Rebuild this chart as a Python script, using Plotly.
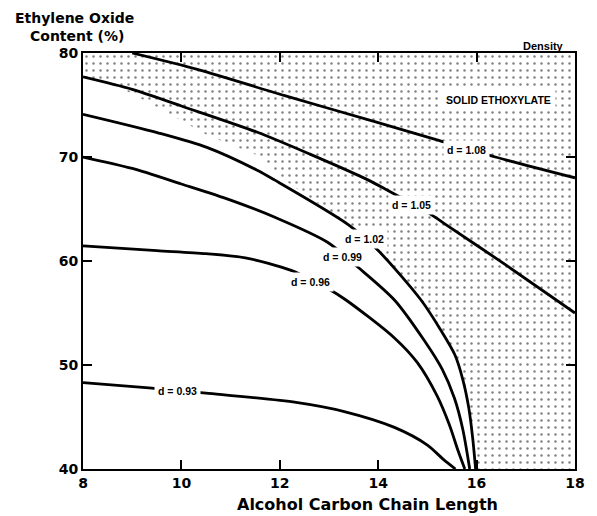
import plotly.graph_objects as go

# Contour lines of density (x = alcohol carbon chain length, y = EO content %)
d093_x = [8.0, 9.34, 10.5, 12.33, 13.33, 14.33, 15.0, 15.33, 15.57]
d093_y = [48.3, 47.8, 47.3, 46.4, 45.5, 44.0, 42.3, 40.9, 40.0]

d096_x = [8.0, 9.5, 10.5, 11.3, 12.23, 12.99, 13.33, 14.33, 14.8, 15.2, 15.45, 15.62, 15.76]
d096_y = [61.45, 61.0, 60.7, 60.3, 59.1, 57.3, 56.3, 52.6, 50.2, 47.0, 44.2, 41.8, 40.0]

d099_x = [8.0, 9.0, 10.0, 11.0, 11.9, 12.97, 13.59, 14.33, 14.93, 15.3, 15.55, 15.72, 15.86]
d099_y = [70.0, 68.9, 67.4, 65.85, 64.2, 61.8, 59.4, 56.25, 52.4, 49.6, 46.8, 43.8, 40.0]

d102_x = [8.0, 9.54, 10.53, 11.53, 11.89, 13.39, 13.99, 14.87, 15.27, 15.56, 15.72, 15.84, 15.92, 15.98]
d102_y = [74.1, 72.3, 70.9, 68.75, 67.8, 63.5, 61.05, 56.25, 53.37, 50.96, 48.6, 45.9, 43.0, 40.0]

d105_x = [8.0, 9.0, 10.0, 11.53, 12.6, 13.79, 14.19, 15.03, 15.33, 16.6, 18.0]
d105_y = [77.7, 76.5, 74.9, 72.4, 70.3, 67.8, 66.8, 64.6, 63.65, 59.6, 55.0]

d108_x = [9.0, 10.34, 12.1, 13.93, 15.23, 16.38, 18.0]
d108_y = [80.0, 78.4, 75.9, 73.4, 71.6, 70.0, 68.0]

# Boundary of the solid-ethoxylate (dotted) region where it leaves d = 1.02
shade_x = [8.0, 8.54, 9.54, 10.53, 11.53, 12.15]
shade_y = [77.7, 77.2, 74.7, 72.1, 70.2, 67.6]

labels = ["d = 0.93", "d = 0.96", "d = 0.99", "d = 1.02", "d = 1.05", "d = 1.08"]
label_x = [9.93, 12.63, 13.27, 13.73, 14.67, 15.8]
label_y = [47.5, 57.98, 60.38, 62.12, 65.38, 70.67]

x_ticks = [8, 10, 12, 14, 16, 18]
y_ticks = [40, 50, 60, 70, 80]
x_range = [8, 18]
y_range = [40, 80]

SANS = "Liberation Sans, Arial, sans-serif"
WIDE = "DejaVu Sans, sans-serif"

fig = go.Figure()

# dotted region polygon
px = [x_range[0], x_range[1], x_range[1]]
py = [y_range[1], y_range[1], y_range[0]]
for x, y in zip(reversed(d102_x), reversed(d102_y)):
    if x > shade_x[-1]:
        px.append(x)
        py.append(y)
px += list(reversed(shade_x))
py += list(reversed(shade_y))
px.append(x_range[0])
py.append(y_range[1])

fig.add_trace(go.Scatter(
    x=px, y=py, mode="lines", fill="toself",
    fillcolor="white",
    fillpattern=dict(shape=".", size=7, solidity=0.1, fgcolor="black", bgcolor="white"),
    line=dict(width=0, color="rgba(0,0,0,0)"),
    hoverinfo="skip", showlegend=False,
))

for xs, ys in [(d093_x, d093_y), (d096_x, d096_y), (d099_x, d099_y),
               (d102_x, d102_y), (d105_x, d105_y), (d108_x, d108_y)]:
    fig.add_trace(go.Scatter(
        x=xs, y=ys, mode="lines",
        line=dict(color="black", width=2.8, shape="spline", smoothing=0.8),
        hoverinfo="skip", showlegend=False,
    ))

annotations = []
for t, x, y in zip(labels, label_x, label_y):
    annotations.append(dict(
        x=x, y=y, xref="x", yref="y", text="<b>" + t + "</b>", showarrow=False,
        font=dict(family=SANS, size=10.5, color="black"),
        bgcolor="white", borderpad=3,
    ))

annotations += [
    dict(x=16.45, y=75.48, xref="x", yref="y", text="<b>SOLID ETHOXYLATE</b>",
         showarrow=False, font=dict(family=SANS, size=10.5, color="black"),
         bgcolor="white", borderpad=4),
    dict(x=(552 - 83) / 501, y=(469 - 46) / 416, xref="paper", yref="paper",
         text="<b>Density</b>", showarrow=False,
         font=dict(family=SANS, size=11, color="black"),
         xanchor="center", yanchor="middle"),
    dict(x=(74 - 83) / 501, y=(469 - 18) / 416, xref="paper", yref="paper",
         text="<b>Ethylene Oxide</b>", showarrow=False,
         font=dict(family=WIDE, size=14, color="black"),
         xanchor="center", yanchor="middle"),
    dict(x=(77 - 83) / 501, y=(469 - 36) / 416, xref="paper", yref="paper",
         text="<b>Content (%)</b>", showarrow=False,
         font=dict(family=WIDE, size=14, color="black"),
         xanchor="center", yanchor="middle"),
    dict(x=(373 - 83) / 501, y=(469 - 504) / 416, xref="paper", yref="paper",
         text="<b>Alcohol Carbon Chain Length</b>", showarrow=False,
         font=dict(family=WIDE, size=16, color="black"),
         xanchor="center", yanchor="middle"),
]

axis_common = dict(
    showgrid=False, zeroline=False, showline=True, linecolor="black", linewidth=2,
    mirror="ticks", ticks="inside", ticklen=9, tickwidth=1.5, tickcolor="black",
    tickfont=dict(family=WIDE, size=14, color="black", weight="bold"),
)

fig.update_layout(
    width=597, height=516,
    margin=dict(l=83, r=13, t=53, b=47),
    paper_bgcolor="white", plot_bgcolor="white",
    xaxis=dict(range=x_range, tickvals=x_ticks, ticktext=[str(v) for v in x_ticks], **axis_common),
    yaxis=dict(range=y_range, tickvals=y_ticks, ticktext=[str(v) for v in y_ticks], **axis_common),
    annotations=annotations,
    showlegend=False,
)

fig.write_html("out.html")
